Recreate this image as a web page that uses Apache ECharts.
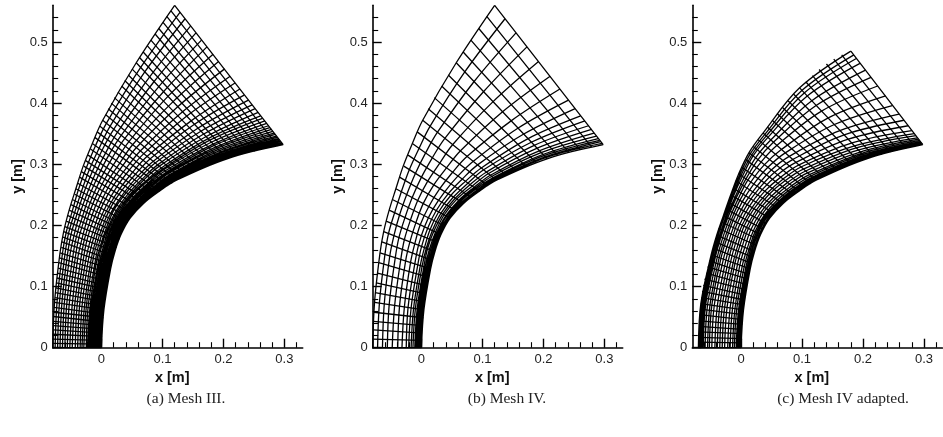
<!DOCTYPE html>
<html><head><meta charset="utf-8">
<script src="https://cdn.jsdelivr.net/npm/echarts@6/dist/echarts.min.js"></script>
<style>html,body{margin:0;padding:0;background:#fff}#c{width:943px;height:437px}</style></head>
<body><div id="c"></div>
<script>
// All mesh values are in millimetres.
const captions = ["(a) Mesh III.", "(b) Mesh IV.", "(c) Mesh IV adapted."];
const xMajorTicks = [0, 0.1, 0.2, 0.3];
const xMinorTicks = [-0.06,-0.04,-0.02,0.02,0.04,0.06,0.08,0.12,0.14,0.16,0.18,0.22,0.24,0.26,0.28,0.32];
const yMajorTicks = [0, 0.1, 0.2, 0.3, 0.4, 0.5];
const yMinorTicks = [0.02,0.04,0.06,0.08,0.12,0.14,0.16,0.18,0.22,0.24,0.26,0.28,0.32,0.34,0.36,0.38,0.42,0.44,0.46,0.48,0.52,0.54];

// wall x, wall y, outer x, outer y of each wall-to-outer line
const meshIIIRadials = [
[0,0,-80,0],[0,6,-80,7],[0.5,12,-80,14],[1,18,-80,22],[1,24,-79,29],[1.5,30,-79,36],[2,36,-79,43],[2.5,42,-79,51],[3,49,-78,58],[3.5,55,-78,66],
[4,62,-77,74],[5,68,-76,82],[5.5,75,-76,90],[6.5,81,-75,98],[7,88,-74,106],[8,95,-73,114],[9,101,-72,122],[11,108,-71,130],[12,115,-70,139],[13,122,-69,147],
[15,129,-68,155],[17,136,-66,164],[18,143,-65,173],[20,150,-63,181],[22,157,-62,190],[25,164,-60,198],[27,172,-58,207],[30,178,-55,216],[32,185,-53,225],[35,192,-50,234],
[38,199,-47,242],[43,205,-44,251],[47,212,-42,260],[52,218,-39,269],[57,224,-36,279],[63,230,-33,288],[69,236,-29,297],[75,241,-26,306],[81,246,-22,315],[88,251,-18,325],
[95,256,-15,334],[102,261,-11,344],[109,265,-7,353],[116,269,-2.5,362],[123,274,2,372],[131,278,7,381],[139,282,11,391],[147,286,16,400],[155,290,21,409],[163,293,27,418],
[171,297,33,428],[180,300,38,437],[188,303,44,446],[197,306,50,456],[206,309,57,466],[214,312,62,475],[223,315,68,484],[232,317,75,494],[242,319,81,503],[251,321,88,513],
[260,324,94,522],[270,326,101,532],[279,328,107,542],[289,330,114,551],[298,332,120,560]];

// wall-parallel lines, read at eight stations from the wall outwards
const meshIIIWallX = [
[0,4,15,32,69,123,206,298],[0,4,15,32,69,122,205,297],[-1,3,14,31,68,122,204,296],[-1,3,14,31,68,121,203,295],[-2,2,13,30,67,121,203,294],
[-2,2,13,30,66,120,202,293],[-3,1,12,29,66,119,201,292],[-3,1,12,29,65,118,200,291],[-4,0,11,28,64,117,199,290],[-4,0,11,27,64,116,197,288],
[-5,-1,10,27,63,115,196,287],[-6,-2,9,26,62,114,195,285],[-7,-3,8,25,61,113,193,283],[-8,-4,7,24,60,112,191,281],[-9,-5,6,23,58,110,189,279],
[-10,-6,5,22,57,108,187,276],[-11,-7,4,20,55,106,185,274],[-12,-8,2,19,54,104,183,271],[-14,-10,1,18,52,102,180,268],[-15,-11,-1,16,50,100,177,264],
[-17,-13,-2,14,48,98,175,261],[-19,-15,-4,12,46,95,171,257],[-21,-17,-6,10,44,92,167,252],[-23,-19,-9,8,41,88,163,247],[-25,-22,-11,5,38,85,158,241],
[-29,-25,-15,2,34,80,152,234],[-32,-28,-18,-2,30,75,147,227],[-35,-32,-22,-5,25,69,140,219],[-39,-36,-26,-9,20,64,133,211],[-43,-40,-30,-14,15,57,125,202],
[-48,-44,-34,-18,10,51,117,192],[-52,-48,-39,-23,5,45,109,183],[-56,-53,-43,-27,0,38,102,173],[-60,-57,-47,-31,-5,32,94,164],[-64,-61,-52,-36,-10,26,86,155],
[-68,-65,-56,-40,-15,20,79,146],[-72,-69,-60,-44,-20,14,71,137],[-76,-73,-64,-48,-25,8,64,129],[-80,-77,-68,-53,-30,2,57,120]];
const meshIIIWallY = [
[0,62,129,185,236,274,309,332],[0,62,129,185,236,274,310,333],[0,62,129,185,237,275,311,334],[0,62,129,186,237,275,311,335],[0,62,130,186,237,276,312,337],
[0,62,130,186,238,277,313,338],[0,62,130,186,238,277,314,339],[0,62,130,187,238,278,315,341],[0,63,130,187,239,278,316,342],[0,63,130,187,239,279,317,344],
[0,63,131,188,240,280,319,346],[0,63,131,188,240,281,320,349],[0,63,131,188,241,282,322,351],[0,63,131,189,242,283,324,354],[0,63,132,189,243,285,326,357],
[0,63,132,190,243,286,328,360],[0,64,133,190,244,287,331,363],[0,64,133,191,245,289,333,367],[0,64,133,192,246,291,336,371],[0,64,134,193,248,292,339,375],
[0,64,134,193,249,294,342,379],[0,65,135,194,250,297,345,385],[0,65,136,195,252,299,349,391],[0,65,136,196,254,302,354,397],[0,66,137,198,255,305,359,405],
[0,66,138,199,258,309,365,413],[0,67,139,201,260,313,371,423],[0,67,141,203,263,317,379,433],[0,68,142,205,266,322,386,444],[0,69,143,207,269,327,394,456],
[0,69,144,209,272,332,402,468],[0,70,146,211,275,337,411,480],[0,70,147,213,279,342,419,492],[0,71,149,215,282,347,427,503],[0,72,150,217,285,352,435,515],
[0,72,151,219,288,357,443,526],[0,73,152,221,291,362,451,538],[0,73,154,223,294,367,458,549],[0,74,155,225,297,372,466,560]];
// the same lines read at three more stations round the shoulder: x,y x,y x,y
const meshIIIShoulder = [
[22,157,47,212,95,256],[22,157,47,212,94,256],[21,157,46,212,94,257],[21,157,46,213,93,257],[20,158,45,213,93,258],
[20,158,45,213,92,258],[19,158,44,214,91,258],[19,158,44,214,91,259],[18,159,43,214,90,260],[17,159,42,215,89,260],
[17,159,41,215,88,261],[16,159,41,216,87,262],[15,160,40,216,86,262],[14,160,39,217,85,263],[13,161,37,217,83,264],
[12,161,36,218,82,266],[10,162,35,219,80,267],[9,162,33,219,78,268],[8,163,32,220,76,269],[6,163,30,221,74,271],
[5,164,28,222,72,272],[3,165,26,223,69,274],[0,165,24,224,67,276],[-2,166,21,226,63,278],[-5,167,19,227,60,281],
[-8,169,15,229,56,284],[-11,170,12,231,51,287],[-15,172,8,233,46,291],[-19,173,3,236,41,294],[-24,175,-1,238,35,298],
[-28,177,-6,241,30,302],[-32,178,-11,243,24,306],[-37,180,-15,246,18,311],[-41,182,-20,248,12,315],[-45,184,-24,251,7,319],
[-50,185,-29,253,1,323],[-54,187,-33,255,-4,326],[-58,188,-38,258,-10,330],[-62,190,-42,260,-15,334]];

const adaptedRadials = [
[0,0,-70,0],[0,8,-70,9],[1,15,-69,17],[1,23,-69,26],[1.5,30,-69,35],[2,38,-68,44],[3,46,-68,54],[3,54,-67,63],[4,62,-66,72],[5,70,-65,82],
[6,78,-64,92],[7,86,-62,102],[8,95,-60,112],[9.5,103,-57,122],[11.5,112,-55,132],[13,120,-52,142],[15,129,-49,152],[17,138,-46,163],[19,148,-43,173],[22,157,-40,184],
[26,167,-37,195],[29,177,-33,206],[32,185,-29,216],[36,194,-25,227],[41,203,-21,238],[47,212,-17,250],[54,220,-13,261],[61,228,-9,273],[69,236,-4,284],[77,243,1,295],
[86,250,7,308],[95,256,13,319],[104,262,20,329],[114,268,28,340],[123,274,36,351],[134,280,43,361],[146,286,51,372],[157,291,59,383],[169,296,68,393],[181,300,77,404],
[193,305,86,415],[206,309,96,425],[218,313,106,435],[231,316,117,445],[245,320,128,455],[257,323,140,464],[271,326,152,472],[285,329,165,479],[298,332,180,485]];

const adaptedWallX = [
[0,4,15,32,69,123,206,298],[-1,3,14,31,68,122,205,298],[-3,1,12,30,67,121,204,297],[-4,0,11,28,65,120,203,296],[-6,-2,10,27,64,118,202,296],
[-8,-4,8,25,62,117,201,295],[-11,-7,5,23,60,115,200,294],[-14,-10,2,20,57,112,198,293],[-18,-14,-2,16,54,109,195,291],[-22,-18,-6,12,50,106,192,289],
[-27,-23,-10,9,46,102,189,287],[-31,-27,-13,5,43,99,186,284],[-35,-31,-17,2,39,95,182,280],[-39,-35,-21,-2,35,90,176,274],[-43,-39,-25,-6,30,85,169,267],
[-48,-44,-29,-9,26,79,162,259],[-52,-48,-33,-13,21,73,153,248],[-55,-51,-36,-16,16,66,143,237],[-59,-55,-39,-19,11,59,132,224],[-62,-58,-42,-22,8,53,123,213],
[-64,-60,-44,-24,5,49,116,204],[-66,-62,-46,-25,2,44,109,195],[-67,-63,-47,-27,0,41,104,189],[-69,-65,-48,-28,-2,39,100,185],[-70,-66,-49,-29,-4,36,96,180]];
const adaptedWallY = [
[0,62,129,185,236,274,309,332],[0,62,130,186,237,275,310,333],[0,62,130,186,238,276,311,333],[0,63,130,187,238,277,312,334],[0,63,131,188,239,278,313,335],
[0,63,132,189,240,279,314,336],[0,64,132,190,242,281,316,337],[0,64,134,191,244,283,318,339],[0,65,135,193,246,286,320,341],[0,65,136,195,248,289,323,343],
[0,66,138,197,251,292,327,347],[0,66,139,199,253,296,330,350],[0,67,141,201,256,299,335,355],[0,68,142,202,259,303,341,363],[0,68,143,204,261,308,348,372],
[0,69,145,206,264,313,355,382],[0,69,146,208,268,319,365,396],[0,70,147,209,271,324,376,412],[0,70,148,211,274,331,387,428],[0,71,149,212,276,336,396,442],
[0,71,150,213,278,340,404,454],[0,71,151,214,280,344,412,465],[0,72,151,215,282,346,417,473],[0,72,152,215,283,349,421,479],[0,72,152,216,284,351,425,485]];
const adaptedShoulder = [
[22,157,47,212,95,256],[21,158,46,213,94,257],[20,158,45,213,93,258],[18,159,43,214,91,259],[17,159,42,215,90,260],
[15,160,40,216,88,261],[13,161,38,217,86,263],[10,162,35,219,83,265],[6,164,32,221,80,268],[2,166,28,223,76,270],
[-2,167,25,225,72,273],[-5,169,21,227,69,276],[-9,171,18,229,65,279],[-13,172,14,232,60,283],[-16,174,10,234,55,287],
[-20,175,6,236,50,291],[-24,177,2,239,44,295],[-27,178,-2,241,38,299],[-30,180,-5,243,33,304],[-33,181,-8,245,28,308],
[-34,182,-10,246,24,311],[-36,182,-13,247,20,314],[-38,183,-14,248,18,316],[-39,183,-16,249,15,317],[-40,184,-17,250,13,319]];

// Mesh IV shows every second line of Mesh III
const everySecond = (_, i) => i % 2 === 0;
const panels = [
  {radials: meshIIIRadials, wx: meshIIIWallX, wy: meshIIIWallY, sh: meshIIIShoulder, left: 52.7},
  {radials: meshIIIRadials.filter(everySecond), wx: meshIIIWallX.filter(everySecond), wy: meshIIIWallY.filter(everySecond), sh: meshIIIShoulder.filter(everySecond), left: 372.7},
  {radials: adaptedRadials, wx: adaptedWallX, wy: adaptedWallY, sh: adaptedShoulder, left: 692.3}
];
const radialData = rows => rows.flatMap(r => [[r[0]/1000, r[1]/1000], [r[2]/1000, r[3]/1000], [null, null]]);
const wallData = (X, Y, S) => X.flatMap((xs, j) => {
  const ys = Y[j], s = S[j];
  const pts = [[xs[0],ys[0]],[xs[1],ys[1]],[xs[2],ys[2]],[s[0],s[1]],[xs[3],ys[3]],[s[2],s[3]],[xs[4],ys[4]],[s[4],s[5]],[xs[5],ys[5]],[xs[6],ys[6]],[xs[7],ys[7]]];
  return pts.map(p => [p[0]/1000, p[1]/1000]).concat([[null, null]]);
});
const sans = '"Liberation Sans", Arial, sans-serif';
const fmt = v => v === 0 ? '0' : v.toFixed(1);
const grid = [], xAxis = [], yAxis = [], series = [], title = [];
panels.forEach((p, n) => {
  grid.push({left: p.left, top: 5.3, width: 250, height: 342.4});
  const xBase = {type:'value', gridIndex:n, min:-0.08, max:0.33, position:'bottom', splitLine:{show:false}};
  const yBase = {type:'value', gridIndex:n, min:0, max:0.56, position:'left', splitLine:{show:false}};
  xAxis.push(Object.assign({}, xBase, {
    name:'x [m]', nameLocation:'middle', nameGap:14,
    nameTextStyle:{fontFamily:sans, fontWeight:'bold', fontSize:14.5, color:'#111', padding:[0,11,0,0]},
    axisLine:{show:true, onZero:false, lineStyle:{color:'#000', width:1.6}},
    axisTick:{show:true, inside:true, length:9, customValues:xMajorTicks, lineStyle:{color:'#000', width:1.4}},
    axisLabel:{show:true, customValues:xMajorTicks, formatter:fmt, margin:5, fontFamily:sans, fontSize:13, color:'#222'}
  }));
  xAxis.push(Object.assign({}, xBase, {
    axisLine:{show:false, onZero:false},
    axisTick:{show:true, inside:true, length:5.5, customValues:xMinorTicks, lineStyle:{color:'#000', width:1.1}},
    axisLabel:{show:false}
  }));
  yAxis.push(Object.assign({}, yBase, {
    name:'y [m]', nameLocation:'middle', nameGap:25,
    nameTextStyle:{fontFamily:sans, fontWeight:'bold', fontSize:14.5, color:'#111'},
    axisLine:{show:true, onZero:false, lineStyle:{color:'#000', width:1.6}},
    axisTick:{show:true, inside:true, length:9, customValues:yMajorTicks, lineStyle:{color:'#000', width:1.4}},
    axisLabel:{show:true, customValues:yMajorTicks, formatter:fmt, margin:5, fontFamily:sans, fontSize:13, color:'#222'}
  }));
  yAxis.push(Object.assign({}, yBase, {
    axisLine:{show:false, onZero:false},
    axisTick:{show:true, inside:true, length:5.5, customValues:yMinorTicks, lineStyle:{color:'#000', width:1.1}},
    axisLabel:{show:false}
  }));
  const common = {type:'line', xAxisIndex:2*n, yAxisIndex:2*n, showSymbol:false, symbol:'none', silent:true, animation:false,
    connectNulls:false, clip:false, lineStyle:{color:'#000', width:1.3}};
  series.push(Object.assign({}, common, {name:captions[n]+' radial', data:radialData(p.radials)}));
  series.push(Object.assign({}, common, {name:captions[n]+' wall', smooth:0.35, data:wallData(p.wx, p.wy, p.sh)}));
  title.push({text:captions[n], left:[186,507,843][n], top:391, padding:0, textAlign:'center',
    textStyle:{fontFamily:'"Liberation Serif", serif', fontWeight:'normal', fontSize:15.5, color:'#222'}});
});
const chart = echarts.init(document.getElementById('c'), null, {renderer:'canvas'});
chart.setOption({animation:false, backgroundColor:'#fff', title, grid, xAxis, yAxis, series, tooltip:{show:false}, legend:{show:false}});
</script></body></html>
